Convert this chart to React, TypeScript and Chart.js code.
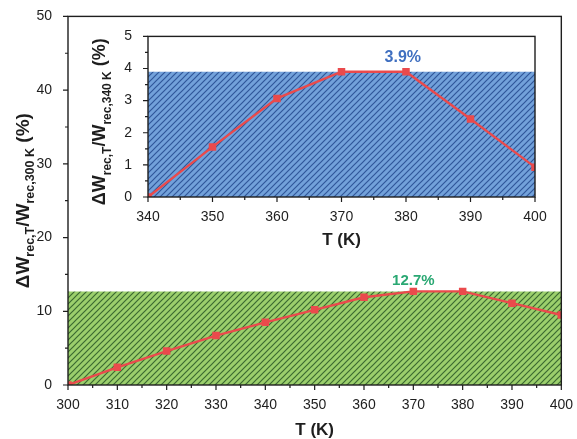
import React, { useEffect, useRef } from "react";
import { Chart, registerables } from "chart.js";
Chart.register(...registerables);

// ---------- data ----------
const mainT = [300, 310, 320, 330, 340, 350, 360, 370, 380, 390, 400];
const mainDW = [0, 2.4, 4.6, 6.7, 8.5, 10.2, 11.9, 12.7, 12.7, 11.1, 9.5];
const mainPeak = 12.7;
const mainPeakLabel = "12.7%";
const mainPeakLabelT = 370;

const insetT = [340, 350, 360, 370, 380, 390, 400];
const insetDW = [0, 1.56, 3.07, 3.9, 3.9, 2.43, 0.93];
const insetPeak = 3.9;
const insetPeakLabel = "3.9%";
const insetPeakLabelT = 379.5;

const mainXRange = [300, 400];
const mainYRange = [0, 50];
const insetXRange = [340, 400];
const insetYRange = [0, 5];

const xTitle = "T (K)";
const mainYTitle = [
  { t: "ΔW", sub: false },
  { t: "rec,T", sub: true },
  { t: "/W", sub: false },
  { t: "rec,300 K", sub: true },
  { t: " (%)", sub: false },
];
const insetYTitle = [
  { t: "ΔW", sub: false },
  { t: "rec,T", sub: true },
  { t: "/W", sub: false },
  { t: "rec,340 K", sub: true },
  { t: " (%)", sub: false },
];

const FONT = "'Liberation Sans', Arial, sans-serif";
const INK = "#1e1e1e";
const RED = "#ea4a4c";

function makeHatch(bg: string, fg: string) {
  const p = 6;
  const c = document.createElement("canvas");
  c.width = p;
  c.height = p;
  const g = c.getContext("2d")!;
  g.fillStyle = bg;
  g.fillRect(0, 0, p, p);
  g.strokeStyle = fg;
  g.lineWidth = 1.2;
  g.beginPath();
  g.moveTo(-1, p + 1);
  g.lineTo(p + 1, -1);
  g.moveTo(-1, 1);
  g.lineTo(1, -1);
  g.moveTo(p - 1, p + 1);
  g.lineTo(p + 1, p - 1);
  g.stroke();
  return g.createPattern(c, "repeat")!;
}

function drawRich(
  ctx: CanvasRenderingContext2D,
  segs: { t: string; sub: boolean }[],
  cx: number,
  cy: number,
  big: number,
  small: number
) {
  ctx.save();
  let total = 0;
  const ws: number[] = [];
  for (const s of segs) {
    ctx.font = `bold ${s.sub ? small : big}px ${FONT}`;
    const w = ctx.measureText(s.t).width;
    ws.push(w);
    total += w;
  }
  ctx.translate(cx, cy);
  ctx.rotate(-Math.PI / 2);
  ctx.fillStyle = INK;
  ctx.textBaseline = "alphabetic";
  ctx.textAlign = "left";
  let x = -total / 2;
  const base = big * 0.36;
  segs.forEach((s, i) => {
    ctx.font = `bold ${s.sub ? small : big}px ${FONT}`;
    ctx.fillText(s.t, x, s.sub ? base + big * 0.28 : base);
    x += ws[i];
  });
  ctx.restore();
}

type Deco = {
  xMajor: number;
  xMinor: number;
  yMajor: number;
  yMinor: number;
  titleSize: number;
  subSize: number;
  yTitle: { t: string; sub: boolean }[];
  yTitleX: number;
  yTitleShift: number;
  xTitleY: number;
  xTitleSize: number;
  label: string;
  labelT: number;
  labelY: number;
  labelColor: string;
  labelSize: number;
};

const decoPlugin = {
  id: "deco",
  afterDraw(chart: any, _a: any, o: Deco) {
    const { ctx, chartArea: a, scales } = chart;
    const xs = scales.x;
    const ys = scales.y;
    ctx.save();
    ctx.strokeStyle = INK;
    ctx.lineWidth = 1.4;
    ctx.strokeRect(a.left, a.top, a.right - a.left, a.bottom - a.top);
    ctx.lineWidth = 1.2;
    ctx.beginPath();
    const isMajor = (v: number, step: number) =>
      Math.abs(v / step - Math.round(v / step)) < 1e-6;
    for (let v = xs.min; v <= xs.max + 1e-9; v += o.xMinor) {
      const px = xs.getPixelForValue(v);
      const len = isMajor(v, o.xMajor) ? 5 : 3;
      ctx.moveTo(px, a.bottom);
      ctx.lineTo(px, a.bottom + len);
    }
    for (let v = ys.min; v <= ys.max + 1e-9; v += o.yMinor) {
      const py = ys.getPixelForValue(v);
      const len = isMajor(v, o.yMajor) ? 5 : 3;
      ctx.moveTo(a.left, py);
      ctx.lineTo(a.left - len, py);
    }
    ctx.stroke();

    // x title
    ctx.fillStyle = INK;
    ctx.font = `bold ${o.xTitleSize}px ${FONT}`;
    ctx.textAlign = "center";
    ctx.textBaseline = "middle";
    ctx.fillText(xTitle, (a.left + a.right) / 2, o.xTitleY);

    // y title
    drawRich(
      ctx,
      o.yTitle,
      o.yTitleX,
      (a.top + a.bottom) / 2 + o.yTitleShift,
      o.titleSize,
      o.subSize
    );

    // peak label
    ctx.fillStyle = o.labelColor;
    ctx.font = `bold ${o.labelSize}px ${FONT}`;
    ctx.textAlign = "center";
    ctx.textBaseline = "alphabetic";
    ctx.fillText(o.label, xs.getPixelForValue(o.labelT), o.labelY);
    ctx.restore();
  },
};

function buildConfig(
  T: number[],
  V: number[],
  peak: number,
  xr: number[],
  yr: number[],
  xStep: number,
  yStep: number,
  pattern: CanvasPattern,
  pad: { top: number; right: number },
  yWidth: number,
  xHeight: number,
  deco: Deco
): any {
  return {
    type: "line",
    data: {
      datasets: [
        {
          data: T.map((t, i) => ({ x: t, y: V[i] })),
          borderColor: RED,
          backgroundColor: RED,
          borderWidth: 2.4,
          pointStyle: "rect",
          pointRadius: 5.3,
          pointBorderWidth: 0,
          fill: false,
          clip: 0,
          order: 1,
        },
        {
          data: [
            { x: xr[0], y: peak },
            { x: xr[1], y: peak },
          ],
          borderWidth: 0,
          borderColor: "rgba(0,0,0,0)",
          backgroundColor: pattern,
          pointRadius: 0,
          fill: "origin",
          clip: 0,
          order: 2,
        },
      ],
    },
    options: {
      animation: false,
      responsive: false,
      devicePixelRatio: 1,
      layout: { padding: { top: pad.top, right: pad.right, left: 0, bottom: 0 } },
      plugins: {
        legend: { display: false },
        tooltip: { enabled: false },
        deco,
      },
      scales: {
        x: {
          type: "linear",
          min: xr[0],
          max: xr[1],
          grid: { display: false },
          border: { display: false },
          ticks: {
            stepSize: xStep,
            padding: 4,
            color: INK,
            font: { size: 14, family: FONT },
            maxRotation: 0,
          },
          afterFit: (s: any) => {
            s.height = xHeight;
          },
        },
        y: {
          type: "linear",
          min: yr[0],
          max: yr[1],
          grid: { display: false },
          border: { display: false },
          ticks: {
            stepSize: yStep,
            padding: 8,
            color: INK,
            font: { size: 14, family: FONT },
          },
          afterFit: (s: any) => {
            s.width = yWidth;
          },
        },
      },
    },
    plugins: [decoPlugin],
  };
}

export default function App() {
  const mainRef = useRef<HTMLCanvasElement>(null);
  const insetRef = useRef<HTMLCanvasElement>(null);

  useEffect(() => {
    document.body.style.margin = "0";
    const green = makeHatch("#9bcf6c", "#3b6a31");
    const blue = makeHatch("#72a1da", "#30579a");

    const main = new Chart(
      mainRef.current!,
      buildConfig(
        mainT,
        mainDW,
        mainPeak,
        mainXRange,
        mainYRange,
        10,
        10,
        green,
        { top: 15, right: 13 },
        68,
        54,
        {
          xMajor: 10,
          xMinor: 5,
          yMajor: 10,
          yMinor: 5,
          titleSize: 19,
          subSize: 12.5,
          yTitle: mainYTitle,
          yTitleX: 22,
          yTitleShift: 0,
          xTitleY: 430,
          xTitleSize: 17,
          label: mainPeakLabel,
          labelT: mainPeakLabelT,
          labelY: 285,
          labelColor: "#2aa873",
          labelSize: 15,
        }
      )
    );
    const inset = new Chart(
      insetRef.current!,
      buildConfig(
        insetT,
        insetDW,
        insetPeak,
        insetXRange,
        insetYRange,
        10,
        1,
        blue,
        { top: 13, right: 20 },
        63,
        63,
        {
          xMajor: 10,
          xMinor: 5,
          yMajor: 1,
          yMinor: 0.5,
          titleSize: 18,
          subSize: 12,
          yTitle: insetYTitle,
          yTitleX: 14,
          yTitleShift: 5,
          xTitleY: 220,
          xTitleSize: 17,
          label: insetPeakLabel,
          labelT: insetPeakLabelT,
          labelY: 42,
          labelColor: "#3f6fc0",
          labelSize: 16,
        }
      )
    );
    return () => {
      main.destroy();
      inset.destroy();
    };
  }, []);

  return (
    <div style={{ position: "fixed", left: 0, top: 0, width: 577, height: 439, background: "#fff" }}>
      <canvas ref={mainRef} width={577} height={439} style={{ position: "absolute", left: 0, top: 0 }} />
      <canvas ref={insetRef} width={470} height={240} style={{ position: "absolute", left: 85, top: 20 }} />
    </div>
  );
}
